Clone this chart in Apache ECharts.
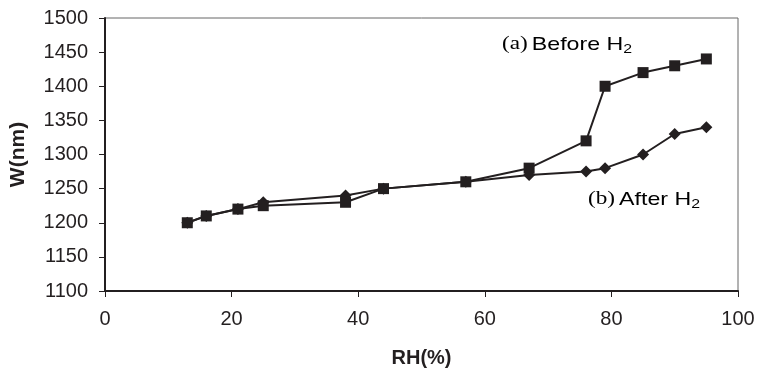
<!DOCTYPE html>
<html><head><meta charset="utf-8">
<script src="https://cdn.jsdelivr.net/npm/echarts@6/dist/echarts.min.js"></script>
<style>html,body{margin:0;padding:0;background:#fff}#c{width:757px;height:374px}</style>
</head><body><div id="c"></div>
<script>
const rh = [13, 16, 21, 25, 38, 44, 57, 67, 76, 79, 85, 90, 95];
const beforeH2 = [1200, 1210, 1220, 1225, 1230, 1250, 1260, 1280, 1320, 1400, 1420, 1430, 1440];
const afterH2 = [1200, 1210, 1220, 1230, 1240, 1250, 1260, 1270, 1275, 1280, 1300, 1330, 1340];
const xTicks = [0, 20, 40, 60, 80, 100];
const yTicks = [1100, 1150, 1200, 1250, 1300, 1350, 1400, 1450, 1500];

const chart = echarts.init(document.getElementById('c'), null, {renderer: 'canvas'});
const font = '"Liberation Sans", Arial, sans-serif';
const ink = '#231f20';
const rich = {
  s: {fontFamily: '"Liberation Serif", "Times New Roman", serif', fontSize: 19, color: ink},
  t: {fontFamily: font, fontSize: 19, color: ink},
  sub: {fontFamily: font, fontSize: 13, color: ink, padding: [10, 0, 0, 0]}
};
chart.setOption({
  animation: false,
  backgroundColor: '#fff',
  grid: {left: 105, right: 19, top: 18, bottom: 83, show: true, borderColor: '#666', borderWidth: 1,
    containLabel: false, outerBoundsMode: 'none'},
  xAxis: {
    type: 'value', min: 0, max: 100, interval: 20,
    name: 'RH(%)', nameLocation: 'middle', nameGap: 57,
    nameTextStyle: {fontFamily: font, fontSize: 20, fontWeight: 'bold', color: ink},
    axisLine: {show: true, lineStyle: {color: ink, width: 2}},
    axisTick: {show: true, length: 6, lineStyle: {color: ink, width: 1}},
    axisLabel: {fontFamily: font, fontSize: 20, color: ink, margin: 18,
      formatter: v => xTicks.includes(v) ? String(v) : ''},
    splitLine: {show: false}
  },
  yAxis: {
    type: 'value', min: 1100, max: 1500, interval: 50,
    name: 'W(nm)', nameLocation: 'middle', nameGap: 76, nameRotate: 90,
    nameTextStyle: {fontFamily: font, fontSize: 21, fontWeight: 'bold', color: ink},
    axisLine: {show: true, lineStyle: {color: ink, width: 2}},
    axisTick: {show: true, length: 6, lineStyle: {color: ink, width: 1}},
    axisLabel: {fontFamily: font, fontSize: 20, color: ink, margin: 17,
      formatter: v => yTicks.includes(v) ? String(v) : ''},
    splitLine: {show: false}
  },
  series: [
    {
      name: 'After H2', type: 'line', symbol: 'diamond', symbolSize: 12,
      data: rh.map((x, i) => [x, afterH2[i]]),
      lineStyle: {color: ink, width: 2},
      itemStyle: {color: ink}
    },
    {
      name: 'Before H2', type: 'line', symbol: 'rect', symbolSize: 11,
      data: rh.map((x, i) => [x, beforeH2[i]]),
      lineStyle: {color: ink, width: 2},
      itemStyle: {color: ink}
    }
  ],
  graphic: [
    {type: 'text', x: 502, y: 33, scaleX: 1.22, style: {text: '{s|(a)} {t|Before H}{sub|2}', rich: rich}},
    {type: 'text', x: 588, y: 188, scaleX: 1.22, style: {text: '{s|(b)} {t|After H}{sub|2}', rich: rich}}
  ]
});
</script></body></html>
